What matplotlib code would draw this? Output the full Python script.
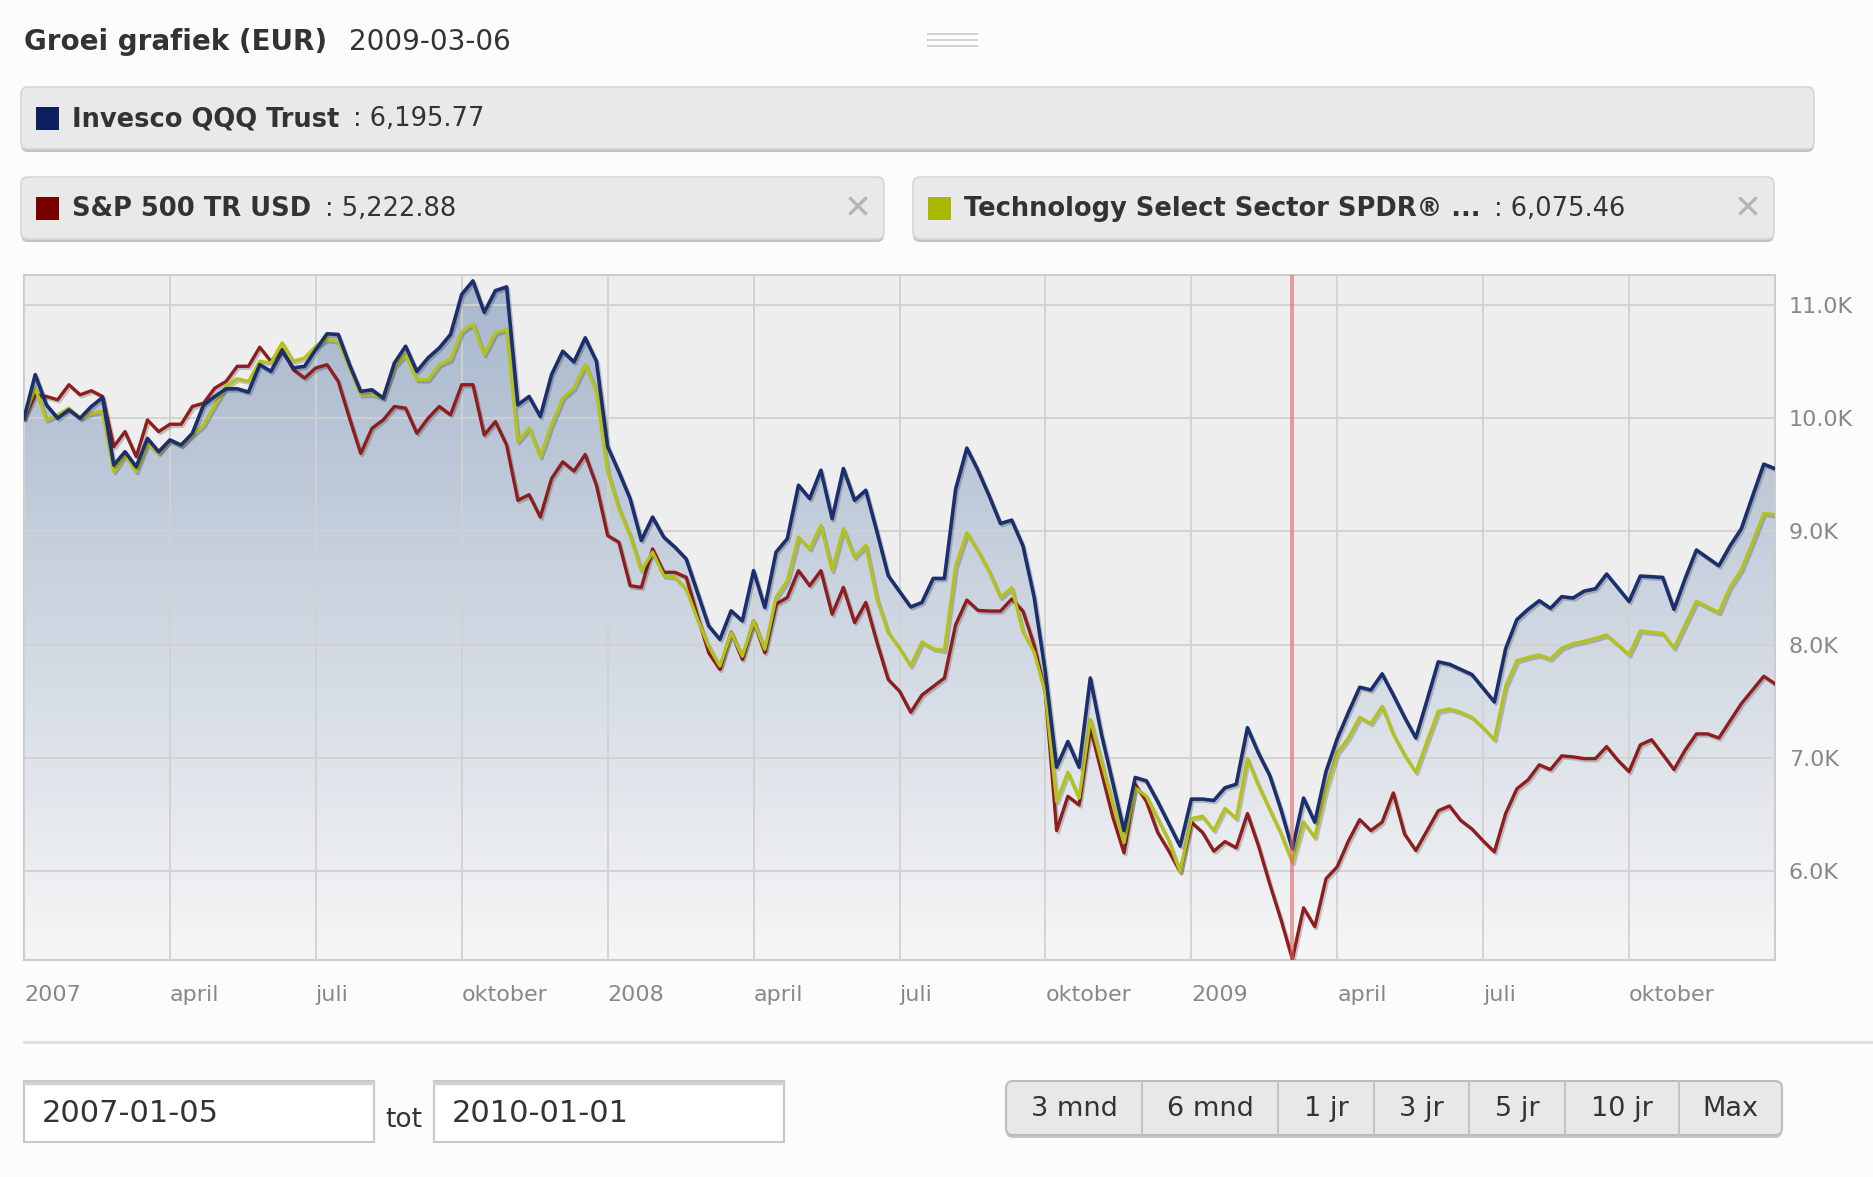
import matplotlib
matplotlib.use("Agg")
import matplotlib.pyplot as plt
import matplotlib.dates as mdates
import matplotlib.patheffects as pe
from matplotlib.patches import FancyBboxPatch, Rectangle, Polygon
import numpy as np
import pandas as pd

# weekly growth of 10,000 EUR
dates = pd.date_range("2007-01-05", "2010-01-01", freq="7D")

qqq = [10000, 10385, 10118, 10000, 10074, 10000, 10104, 10183, 9586, 9704,
       9571, 9822, 9704, 9808, 9763, 9867, 10118, 10192, 10260, 10260,
       10231, 10473, 10414, 10592, 10444, 10459, 10607, 10746, 10740, 10473,
       10237, 10251, 10178, 10488, 10636, 10414, 10533, 10621, 10740, 11095,
       11213, 10935, 11127, 11160, 10118, 10192, 10015, 10385, 10592, 10497,
       10710, 10503, 9749, 9527, 9290, 8920, 9127, 8950, 8861, 8757,
       8462, 8166, 8047, 8299, 8210, 8654, 8328, 8817, 8935, 9408,
       9290, 9541, 9112, 9556, 9275, 9364, 8994, 8609, 8470, 8333,
       8373, 8585, 8585, 9373, 9736, 9539, 9312, 9070, 9100, 8873,
       8418, 7752, 6918, 7145, 6918, 7706, 7206, 6782, 6358, 6827,
       6797, 6615, 6418, 6221, 6636, 6636, 6624, 6736, 6767, 7267,
       7039, 6842, 6539, 6195.77, 6645, 6433, 6880, 7170, 7403, 7624,
       7600, 7742, 7555, 7358, 7176, 7509, 7848, 7827, 7782, 7736,
       7615, 7494, 7964, 8221, 8312, 8388, 8321, 8424, 8412, 8473,
       8494, 8624, 8503, 8382, 8606, 8600, 8594, 8312, 8585, 8836,
       8767, 8697, 8873, 9024, 9312, 9594, 9555]

tech = [10000, 10266, 9985, 10030, 10089, 10000, 10044, 10059, 9527, 9675,
        9527, 9778, 9689, 9808, 9757, 9852, 9941, 10118, 10281, 10349,
        10325, 10503, 10488, 10666, 10503, 10533, 10636, 10695, 10680, 10444,
        10207, 10213, 10178, 10459, 10562, 10340, 10340, 10473, 10518, 10765,
        10834, 10562, 10754, 10784, 9793, 9911, 9660, 9941, 10178, 10266,
        10473, 10237, 9527, 9201, 8964, 8654, 8817, 8609, 8595, 8491,
        8225, 7988, 7811, 8107, 7899, 8210, 7959, 8417, 8565, 8950,
        8846, 9053, 8654, 9024, 8772, 8876, 8402, 8107, 7970, 7812,
        8024, 7964, 7948, 8691, 8988, 8827, 8645, 8418, 8503, 8115,
        7933, 7570, 6615, 6873, 6645, 7342, 6964, 6600, 6252, 6736,
        6661, 6464, 6267, 5994, 6464, 6485, 6358, 6555, 6464, 6994,
        6752, 6539, 6327, 6075.46, 6433, 6297, 6721, 7045, 7176, 7358,
        7303, 7455, 7206, 7024, 6873, 7145, 7412, 7433, 7403, 7358,
        7267, 7161, 7630, 7858, 7888, 7909, 7873, 7970, 8009, 8030,
        8055, 8085, 8000, 7909, 8121, 8109, 8100, 7970, 8176, 8382,
        8333, 8282, 8509, 8661, 8903, 9161, 9145]

sp500 = [10000, 10207, 10192, 10163, 10296, 10207, 10243, 10192, 9749, 9882,
         9660, 9985, 9882, 9947, 9947, 10104, 10133, 10266, 10325, 10459,
         10459, 10627, 10503, 10607, 10429, 10355, 10444, 10473, 10325, 10000,
         9689, 9911, 9985, 10104, 10089, 9867, 10000, 10104, 10030, 10296,
         10296, 9852, 9970, 9763, 9275, 9325, 9127, 9467, 9615, 9533,
         9680, 9408, 8964, 8905, 8521, 8506, 8846, 8639, 8639, 8595,
         8254, 7929, 7781, 8112, 7870, 8210, 7929, 8358, 8417, 8654,
         8521, 8654, 8269, 8506, 8195, 8373, 8018, 7692, 7590, 7403,
         7555, 7630, 7706, 8176, 8394, 8303, 8297, 8297, 8403, 8297,
         7994, 7570, 6358, 6661, 6585, 7267, 6873, 6479, 6161, 6767,
         6615, 6342, 6176, 5994, 6433, 6342, 6176, 6261, 6206, 6509,
         6218, 5882, 5567, 5222.88, 5676, 5509, 5933, 6039, 6267, 6455,
         6358, 6433, 6691, 6327, 6182, 6358, 6533, 6576, 6448, 6373,
         6267, 6170, 6509, 6727, 6806, 6939, 6897, 7018, 7009, 6994,
         6994, 7100, 6979, 6879, 7115, 7161, 7030, 6897, 7070, 7212,
         7212, 7176, 7327, 7479, 7600, 7721, 7655]

names = ["Invesco QQQ Trust", "S&P 500 TR USD", "Technology Select Sector SPDR® ..."]
values = ["6,195.77", "5,222.88", "6,075.46"]
marker_date = "2009-03-06"
month_labels = {4: "april", 7: "juli", 10: "oktober"}
yticks = [6000, 7000, 8000, 9000, 10000, 11000]
range_buttons = ["3 mnd", "6 mnd", "1 jr", "3 jr", "5 jr", "10 jr", "Max"]
start_text, end_text = "2007-01-05", "2010-01-01"

NAVY, RED, GREEN = "#1b2f6e", "#8e1d1d", "#b3c21c"
TXT = "#333333"

W, H = 1873, 1177
fig = plt.figure(figsize=(W / 100, H / 100), dpi=100, facecolor="#fcfcfc")
bg = fig.add_axes([0, 0, 1, 1], zorder=0)
bg.set_xlim(0, W)
bg.set_ylim(H, 0)
bg.axis("off")
renderer = fig.canvas.get_renderer()

# header
bg.text(24, 42, "Groei grafiek (EUR)", fontsize=20, fontweight="bold", color=TXT, va="center")
bg.text(349, 42, marker_date, fontsize=20, color=TXT, va="center")
for yy in (34, 40, 46):
    bg.plot([928, 977], [yy, yy], color="#d0d0d0", lw=1.4)


def legend_box(x0, x1, y0, y1, color, name, value, closable):
    bg.add_patch(FancyBboxPatch((x0, y0 + 3), x1 - x0, y1 - y0,
                                boxstyle="round,pad=0,rounding_size=7", fc="#c2c2c2", ec="none"))
    bg.add_patch(FancyBboxPatch((x0, y0), x1 - x0, y1 - y0,
                                boxstyle="round,pad=0,rounding_size=7", fc="#e9e9e9", ec="#d6d6d6", lw=1.2))
    cy = (y0 + y1) / 2
    bg.add_patch(Rectangle((x0 + 15, cy - 11.5), 23, 23, fc=color, ec="none"))
    t = bg.text(x0 + 51, cy + 1, name, fontsize=18.5, fontweight="bold", color=TXT, va="center")
    ext = t.get_window_extent(renderer)
    bg.text(ext.x1 + 14, cy + 1, ": " + value, fontsize=18.5, color=TXT, va="center")
    if closable:
        bg.text(x1 - 26, cy + 1, "✕", fontsize=24, fontweight="bold", color="#b4b4b4",
                ha="center", va="center")


legend_box(21, 1814, 87, 149, "#0c1f5e", names[0], values[0], False)
legend_box(21, 884, 177, 239, "#7a0000", names[1], values[1], True)
legend_box(913, 1774, 177, 239, "#a8ba00", names[2], values[2], True)

# main chart
ax = fig.add_axes([24 / W, 1 - 960 / H, (1775 - 24) / W, (960 - 275) / H], zorder=1)
ax.set_facecolor("#eeeeee")
x = mdates.date2num(dates)
ylo, yhi = 5215, 11265
ax.set_xlim(x[0], x[-1])
ax.set_ylim(ylo, yhi)

top = np.array([166, 182, 204]) / 255
bot = np.array([246, 246, 246]) / 255
grad = top + (bot - top) * np.linspace(0, 1, 256)[:, None, None]
im = ax.imshow(grad, extent=[x[0], x[-1], ylo, yhi], origin="upper", aspect="auto", zorder=1)
area = Polygon(np.column_stack([np.r_[x[0], x, x[-1]], np.r_[ylo, qqq, ylo]]),
               closed=True, transform=ax.transData)
im.set_clip_path(area)

ax.set_axisbelow(False)
ax.grid(True, color=(0.82, 0.82, 0.82, 0.6), lw=1.3)

shadow = [pe.SimpleLineShadow(offset=(1.2, -1.5), shadow_color="black", alpha=0.2), pe.Normal()]
ax.plot(x, sp500, color=RED, lw=2.4, zorder=3, path_effects=shadow)
ax.plot(x, tech, color=GREEN, lw=2.4, zorder=3, path_effects=shadow)
ax.plot(x, qqq, color=NAVY, lw=2.6, zorder=4, path_effects=shadow)
ax.axvline(mdates.date2num(pd.Timestamp(marker_date)), color="#e06060", alpha=0.6, lw=2.8, zorder=5)

for s in ax.spines.values():
    s.set_color("#cccccc")
    s.set_linewidth(1.5)

# first weekly point of each quarter, the closing week not labelled
tick_idx = [i for i, d in enumerate(dates[:-1])
            if d.month in (1, 4, 7, 10) and (i == 0 or dates[i - 1].month != d.month)]
ax.set_xticks(x[tick_idx])
ax.set_xticklabels([str(dates[i].year) if dates[i].month == 1 else month_labels[dates[i].month]
                    for i in tick_idx], ha="left")
ax.tick_params(axis="x", length=0, pad=18, labelsize=16, labelcolor="#888888")
ax.yaxis.tick_right()
ax.set_yticks(yticks)
ax.set_yticklabels([f"{v / 1000:.1f}K" for v in yticks])
ax.tick_params(axis="y", length=0, pad=10, labelsize=16, labelcolor="#888888")

# bottom controls
bg.plot([24, W], [1042, 1042], color="#dedede", lw=2)

for bx0, txt in ((24, start_text), (434, end_text)):
    bg.add_patch(Rectangle((bx0, 1081), 350, 61, fc="white", ec="#c8c8c8", lw=1.5))
    bg.plot([bx0 + 1, bx0 + 349], [1083, 1083], color="#d2d2d2", lw=2.5)
    bg.text(bx0 + 18, 1113, txt, fontsize=22, color=TXT, va="center")
bg.text(385, 1120, "tot", fontsize=19, color=TXT, va="center")

edges = [1006, 1142, 1278, 1374, 1469, 1565, 1679, 1782]
bg.add_patch(FancyBboxPatch((edges[0], 1084), edges[-1] - edges[0], 54,
                            boxstyle="round,pad=0,rounding_size=7", fc="#c6c6c6", ec="none"))
bg.add_patch(FancyBboxPatch((edges[0], 1081), edges[-1] - edges[0], 54,
                            boxstyle="round,pad=0,rounding_size=7", fc="#e8e8e8", ec="#bdbdbd", lw=1.5))
for i, lab in enumerate(range_buttons):
    if i > 0:
        bg.plot([edges[i], edges[i]], [1082, 1134], color="#c4c4c4", lw=1.5)
    bg.text((edges[i] + edges[i + 1]) / 2, 1109, lab, fontsize=19.5, color=TXT, ha="center", va="center")

fig.savefig("out.png", dpi=100, facecolor=fig.get_facecolor())
